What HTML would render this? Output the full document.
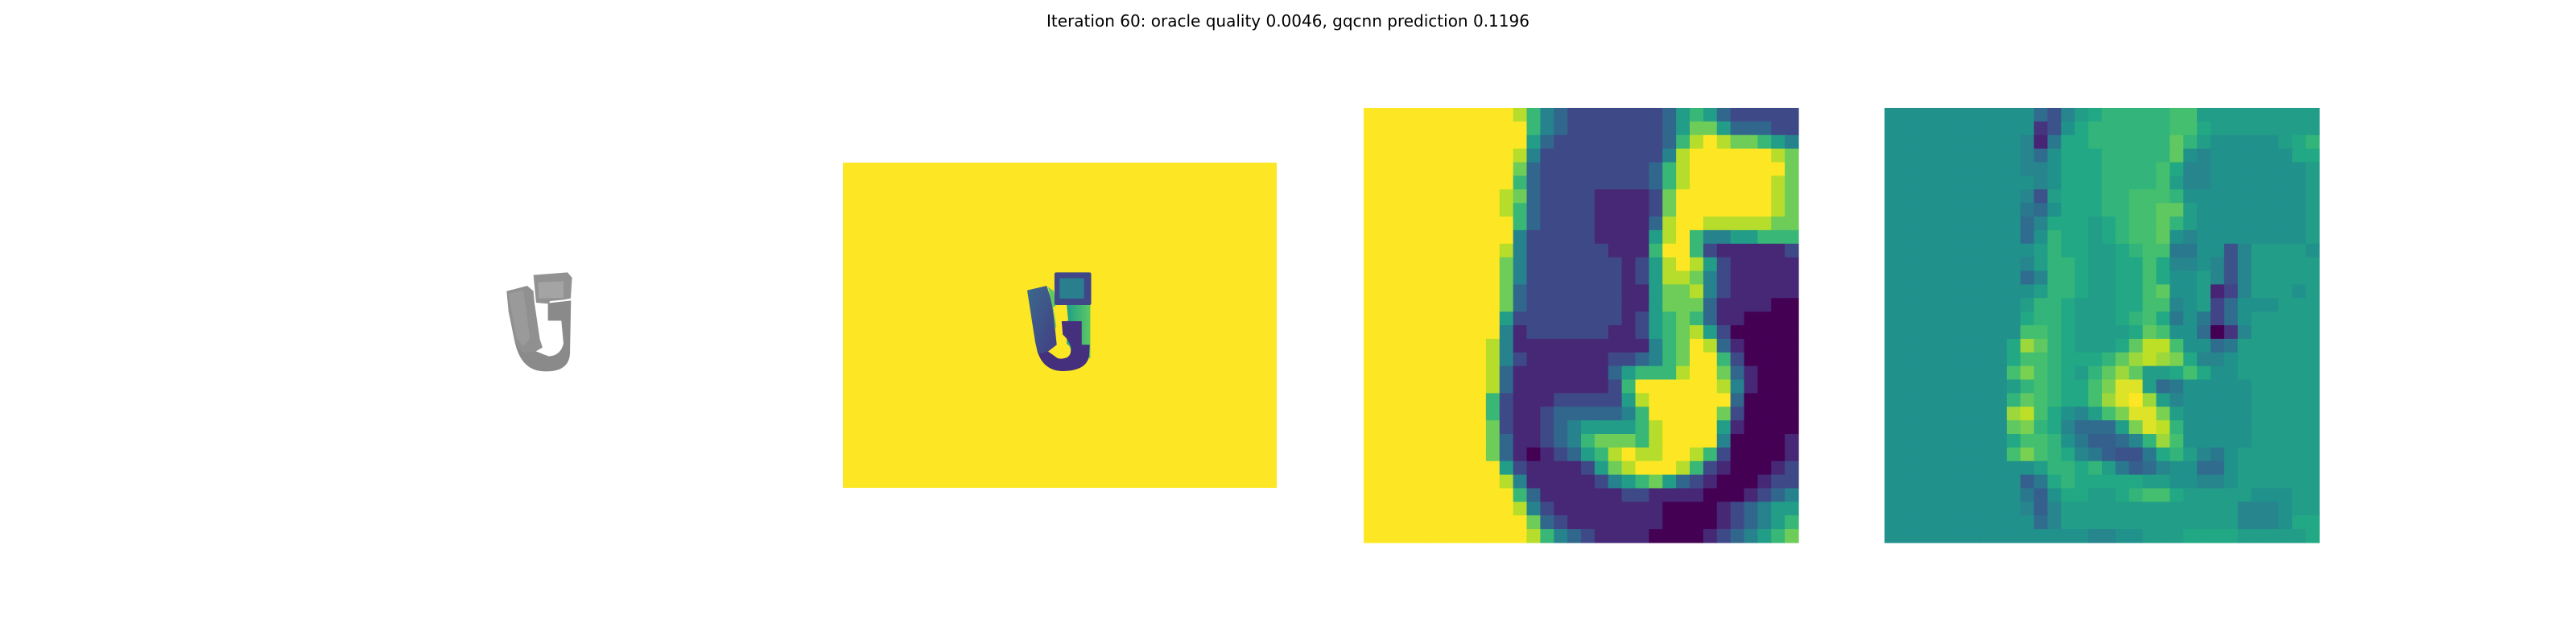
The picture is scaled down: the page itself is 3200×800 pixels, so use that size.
<!DOCTYPE html>
<html><head><meta charset="utf-8">
<style>
html,body{margin:0;padding:0;background:#fff;}
body{width:3200px;height:800px;position:relative;overflow:hidden;font-family:"DejaVu Sans","Liberation Sans",sans-serif;}
#title{position:absolute;left:0;width:3200px;top:12px;text-align:center;font-size:20px;color:#000;line-height:28px;}
svg{position:absolute;left:0;top:0;}
</style></head>
<body>
<div id="title">Iteration 60: oracle quality 0.0046, gqcnn prediction 0.1196</div>
<svg id="fig" width="3200" height="800">
  <g transform="translate(600,320) scale(0.3333)">
    <path d="M120,320 Q145,425 232,424 Q318,426 324,360 L328,160 L242,170 L242,235 L292,235 L300,320 Q290,365 245,368 L205,352 Z" fill="#8a8a8a"/>
    <polygon points="88,125 165,105 188,125 192,170 212,305 222,335 196,350 150,355 120,322 95,200" fill="#909090"/>
    <polygon points="188,65 315,55 332,75 327,152 300,157 250,162 245,172 198,168" fill="#929292"/>
    <polygon points="205,92 300,88 300,150 208,152" fill="#a4a4a4"/>
    <polygon points="95,135 150,120 175,300 150,330 125,300" fill="#9a9a9a"/>
    <polygon points="196,192 240,188 240,255 218,282 205,255" fill="#fff"/>
    <ellipse cx="232" cy="348" rx="16" ry="14" fill="#fff"/>
  </g>
  <g>
    <rect x="1047" y="202" width="539" height="404" fill="#fde725"/>
    <g transform="translate(1040,195) scale(0.3565,0.3333)">
      <defs>
        <linearGradient id="gR" x1="0" y1="0" x2="1" y2="0"><stop offset="0" stop-color="#1f9e89"/><stop offset="1" stop-color="#5ec962"/></linearGradient>
        <linearGradient id="gL" x1="0" y1="0" x2="1" y2="1"><stop offset="0" stop-color="#3b6a8c"/><stop offset="1" stop-color="#433d84"/></linearGradient>
      </defs>
      <rect x="800" y="540" width="82" height="210" fill="url(#gR)"/>
      <path d="M695,715 Q715,800 790,798 Q870,796 878,740 L880,700 L852,700 L852,612 L782,612 L786,662 Q815,690 815,720 Q800,760 768,750 L735,725 Z" fill="#45307d"/>
      <polygon points="662,497 730,480 748,540 755,600 765,700 735,725 700,735 690,690" fill="url(#gL)"/>
      <polygon points="735,485 755,500 768,620 760,640 750,560" fill="#5ec962"/>
      <ellipse cx="790" cy="722" rx="24" ry="28" fill="#fde725"/>
      <polygon points="752,558 800,555 805,610 782,612 784,650 765,640" fill="#fde725"/>
      <rect x="757" y="430" width="128" height="122" rx="6" fill="#3f4788"/>
      <rect x="775" y="452" width="85" height="76" fill="#2a7f8e"/>
    </g>
  </g>
  <g id="p3"></g>
  <g id="p4"></g>
</svg>
<script>
// depth crop heatmap: digits 0-9 -> value d/9
const depthRows = [
"99999999999864322222223565322222",
"99999999999964322222223577533322",
"99999999999953222222223689877654",
"99999999999842222222224899999987",
"99999999999732222222236899999997",
"99999999999632222222236899999987",
"99999999998732222111127999999987",
"99999999998632222111127999999987",
"99999999999632222111138998888877",
"99999999999422222111158964455666",
"99999999998422222211169962111112",
"99999999997422222221258985211111",
"99999999997422222221258874211111",
"99999999997322222221157784211111",
"99999999997322222221157773111100",
"99999999995222222221256763110000",
"99999999994122222211256785200000",
"99999999984111111111146798310000",
"99999999984211111122346799620000",
"99999999983111111135666899731000",
"99999999983111111126999999841000",
"99999999962111222225899999930000",
"99999999962112333334699999720000",
"99999999972112345555689999510000",
"99999999973112346777689999400001",
"99999999973101235689889986200001",
"99999999995211112578999862100012",
"99999999998411111245675321000122",
"99999999999631111112211110001234",
"99999999999842111111110000123455",
"99999999999973211111110000123456",
"99999999999986432111100001234567"
];
// gradient heatmap: letters a-u -> value (i)/20
const gradRows = [
"kkkkkkkkkkkhfjlmnnnnnoolllllllll",
"kkkkkkkkkkkdfkmnnnnnnoomllllllll",
"kkkkkkkkkkjcimmnnnnnnpnlkkkkklmn",
"kkkkkkkkkkjhkmmmnnnnnpkjkkkkkkmm",
"kkkkkkkkkkjjkmmmnnnnomjjkkkkkkkl",
"kkkkkkkkkkkjkmmmnnnnoljjkkkkkkkl",
"kkkkkkkkkkjflmmmnnooonkkkkkkkkkl",
"kkkkkkkkkkihkmmmnnoopplkkkkkkkkl",
"kkkkkkkkkkhjmmmlmnoopnlkkkkkkkkl",
"kkkkkkkkkkhknmmlmnoopkjkkkkkkkkl",
"kkkkkkkkkkklnmmllmnooiikkfjllllk",
"kkkkkkkkkkjlnnmllmmomjjkjfjlllll",
"kkkkkkkkkkhjnnmllmmomkkljfjlllll",
"kkkkkkkkkkklnnmllmmopkklcejlllkl",
"kkkkkkkkkklnnmlllmmoojklehkkklll",
"kkkkkkkkkkmnnmlllmnomikiehklllll",
"kkkkkkkkkkoonmllllmpokkhadjlllll",
"kkkkkkkkkmrpnmlllmpssokkhillllll",
"kkkkkkkkkmoonmmmnprsrqmjjkllllll",
"kkkkkkkkkoqonmlnprpllmomkkllllll",
"kkkkkkkkklnonmmoqttlhikkkkklllll",
"kkkkkkkkknponmmorturljkkkkklllll",
"kkkkkkkkkrsomkjloqttqlkkkkklllll",
"kkkkkkkkkpqnmjhhhlqtsnkkkkklllll",
"kkkkkkkkkmoonkigghjnrokkkkklllll",
"kkkkkkkkkoqonmjigffimnljikllllll",
"kkkkkkkkkkklnnmnlighjkkhhkllllll",
"kkkkkkkkkkgimnmmmmmllkkjjkllllll",
"kkkkkkkkkkigkmmllmnoomlllllkkkll",
"kkkkkkkkkkjgjllllllllllllljjjkll",
"kkkkkkkkkkkhjllllllllllllljjjkmm",
"kkkkkkkkkkkkkkkjjkklllmmmmlllllm"
];
const vstops = ["#440154","#482475","#414487","#355f8d","#2a788e","#21918c","#22a884","#44bf70","#7ad151","#bddf26","#fde725"];
function hex2rgb(h){return [parseInt(h.substr(1,2),16),parseInt(h.substr(3,2),16),parseInt(h.substr(5,2),16)];}
function viridis(v){
  v=Math.max(0,Math.min(1,v));
  const f=v*10, i=Math.min(9,Math.floor(f)), t=f-i;
  const a=hex2rgb(vstops[i]), b=hex2rgb(vstops[i+1]);
  return "rgb("+a.map((c,k)=>Math.round(c+(b[k]-c)*t)).join(",")+")";
}
const NS="http://www.w3.org/2000/svg";
function xScale(x0,w,n,c){return x0+c*w/n;}
function drawHeat(gid,rows,x0,y0,size,valFn,name){
  const g=document.getElementById(gid);
  const n=rows.length, cs=size/n;
  rows.forEach((row,r)=>{
    for(let c=0;c<Math.min(n,row.length);c++){
      const el=document.createElementNS(NS,"rect");
      el.setAttribute("x",xScale(x0,size,n,c).toFixed(2));
      el.setAttribute("y",xScale(y0,size,n,r).toFixed(2));
      el.setAttribute("width",(cs+0.6).toFixed(2));
      el.setAttribute("height",(cs+0.6).toFixed(2));
      el.setAttribute("fill",viridis(valFn(row[c])));
      
      
      g.appendChild(el);
    }
  });
}
drawHeat("p3",depthRows,1694,134,540,ch=>parseInt(ch,10)/9,"depth-cell");
drawHeat("p4",gradRows,2341,134,540,ch=>(ch.charCodeAt(0)-97)/20,"gradient-cell");
</script>
</body></html>
